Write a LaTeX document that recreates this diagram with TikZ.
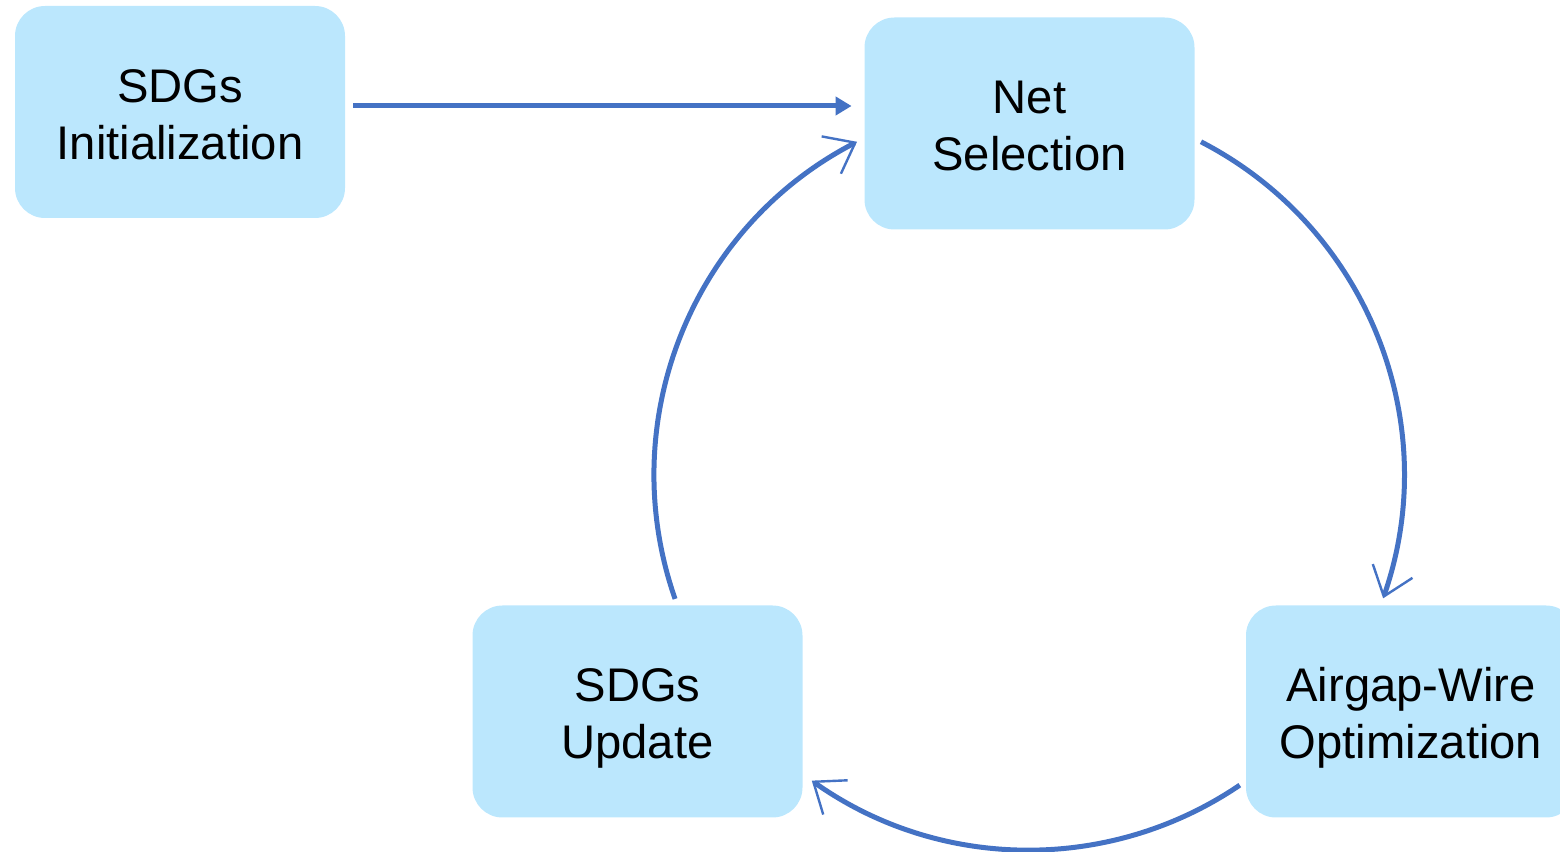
\documentclass[tikz,border=0pt]{standalone}
\usepackage{fontspec}
\setmainfont{Liberation Sans}
\usetikzlibrary{arrows.meta}
\definecolor{boxfill}{RGB}{187,231,253}
\definecolor{flowblue}{RGB}{68,114,196}
\begin{document}
\begin{tikzpicture}[x=0.5pt,y=0.5pt,
  stage/.style={fill=boxfill, draw=none, rounded corners=15pt,
    minimum width=165pt, minimum height=106pt, align=center,
    font=\fontsize{23.6pt}{28.5pt}\selectfont, inner sep=0pt,
    text height=47.5pt, text depth=0pt},
  flow/.style={draw=flowblue, line width=2.5pt,
    -{Straight Barb[length=13.5pt,width=21pt,line width=1.2pt]}},
  feed/.style={draw=flowblue, line width=2.5pt,
    -{Triangle[length=8pt,width=9pt]}}]
\useasboundingbox (0,0) rectangle (1560,852);

\node[stage] (init)   at (180,740)    {SDGs\\Initialization};
\node[stage] (net)    at (1029.5,728.5) {Net\\Selection};
\node[stage] (update) at (637.5,140.5) {SDGs\\Update};
\node[stage] (wire)   at (1411,140.5)  {Airgap-Wire\\Optimization};

% centre of the iteration loop
\coordinate (loop) at (1029,377);

% entry into the loop
\draw[feed] ([shift={(8,6)}]init.east) -- ([shift={(-12.5,17.5)}]net.west);

% the three arcs of the loop
\draw[flow] ([shift={(62.7:375)}]loop) arc[start angle=62.7, end angle=-19.2, radius=375];
\draw[flow] ([shift={(-55.8:375)}]loop) arc[start angle=-55.8, end angle=-125.4, radius=375];
\draw[flow] ([shift={(199.3:375)}]loop) arc[start angle=199.3, end angle=117.3, radius=375];
\end{tikzpicture}
\end{document}
